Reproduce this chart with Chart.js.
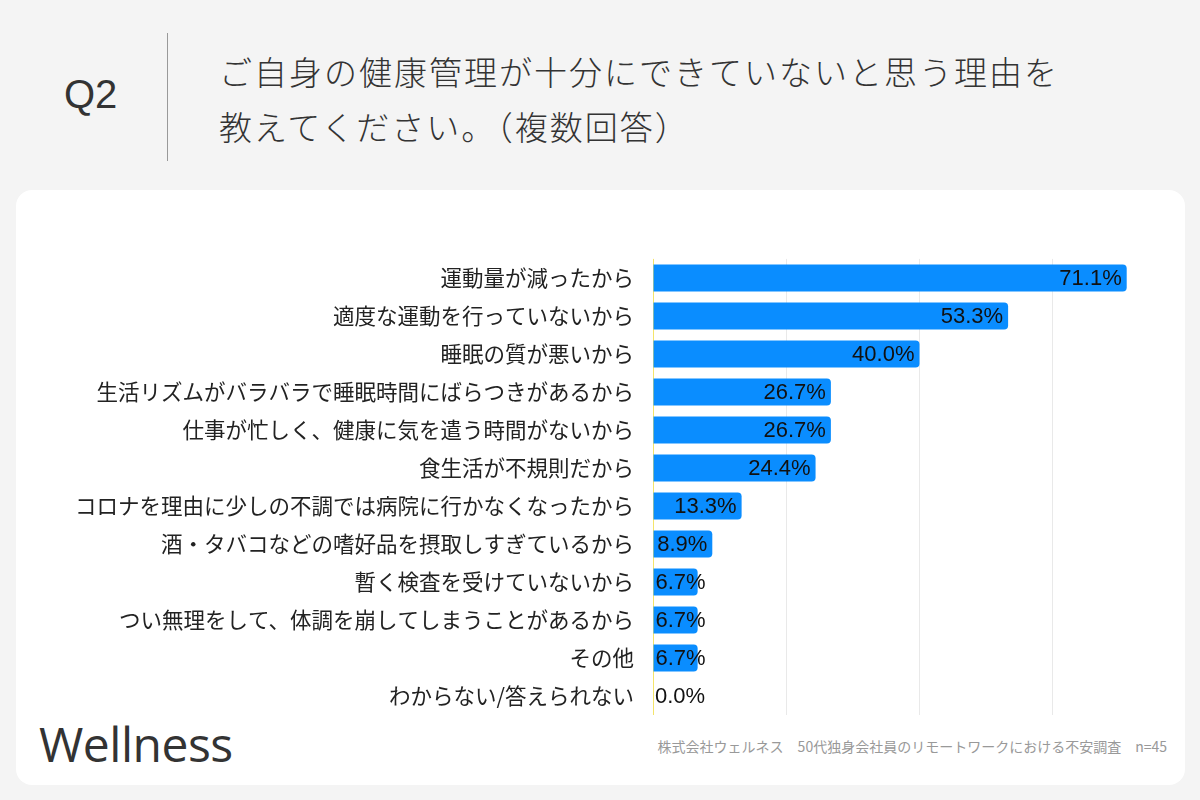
<!DOCTYPE html>
<html lang="ja">
<head>
<meta charset="utf-8">
<script src="https://cdn.jsdelivr.net/npm/chart.js@4"></script>
<style>
  html, body { margin: 0; padding: 0; }
  body {
    width: 1200px; height: 800px; background: #f4f4f4; position: relative; overflow: hidden;
    font-family: "Liberation Sans", "Noto Sans CJK JP", sans-serif; color: #333;
  }
  .q { position: absolute; left: 64px; top: 72px; font-size: 40px; color: #333; }
  .vline { position: absolute; left: 167px; top: 33px; width: 1px; height: 128px; background: #999; }
  .title { position: absolute; left: 219px; top: 44px; font-size: 33px; line-height: 55px; color: #333;
    font-family: "Noto Sans CJK JP", sans-serif; font-weight: 300; letter-spacing: 2px; }
  .card { position: absolute; left: 16px; top: 190px; width: 1169px; height: 595px; background: #fff; border-radius: 16px; }
  .logo { position: absolute; left: 39px; top: 711px; font-size: 48px; color: #333; font-family: "Open Sans", sans-serif; letter-spacing: -0.5px; }
  .foot { position: absolute; right: 33px; top: 736px; font-size: 14px; color: #999; font-family: "Noto Sans CJK JP", sans-serif; }
  #wrap { position: absolute; left: 16px; top: 227px; width: 1170px; height: 520px; }
</style>
</head>
<body>
<div class="q">Q2</div>
<div class="vline"></div>
<div class="title">ご自身の健康管理が十分にできていないと思う理由を<br>教えてください。（複数回答）</div>
<div class="card"></div>
<div class="logo">Wellness</div>
<div class="foot">株式会社ウェルネス　50代独身会社員のリモートワークにおける不安調査　n=45</div>
<div id="wrap"><canvas id="chart"></canvas></div>
<script>
const categories = [
  '運動量が減ったから',
  '適度な運動を行っていないから',
  '睡眠の質が悪いから',
  '生活リズムがバラバラで睡眠時間にばらつきがあるから',
  '仕事が忙しく、健康に気を遣う時間がないから',
  '食生活が不規則だから',
  'コロナを理由に少しの不調では病院に行かなくなったから',
  '酒・タバコなどの嗜好品を摂取しすぎているから',
  '暫く検査を受けていないから',
  'つい無理をして、体調を崩してしまうことがあるから',
  'その他',
  'わからない/答えられない',
];
const values = [71.1, 53.3, 40.0, 26.7, 26.7, 24.4, 13.3, 8.9, 6.7, 6.7, 6.7, 0.0];
const axisTicks = [0, 20, 40, 60];

const valueLabels = {
  id: 'valueLabels',
  afterDatasetsDraw(chart) {
    const ctx = chart.ctx;
    const meta = chart.getDatasetMeta(0);
    ctx.save();
    ctx.font = '22px "Liberation Sans", Arial, sans-serif';
    ctx.fillStyle = '#111';
    ctx.textBaseline = 'middle';
    meta.data.forEach((bar, i) => {
      const text = values[i].toFixed(1) + '%';
      const w = ctx.measureText(text).width;
      const x = Math.max(bar.x - 5 - w, bar.base + 2);
      ctx.fillText(text, x, bar.y + 1);
    });
    ctx.restore();
  }
};

new Chart(document.getElementById('chart'), {
  type: 'bar',
  data: {
    labels: categories,
    datasets: [{
      data: values,
      backgroundColor: '#0a8dff',
      borderRadius: 4,
      borderSkipped: 'start',
      barPercentage: 0.71,
      categoryPercentage: 1,
    }],
  },
  options: {
    indexAxis: 'y',
    responsive: true,
    maintainAspectRatio: false,
    animation: false,
    layout: { padding: { top: 5, bottom: 0, left: 0, right: 0 } },
    plugins: {
      legend: false,
      tooltip: { enabled: false },
    },
    scales: {
      x: {
        min: 0,
        max: 80,
        afterBuildTicks: (scale) => {
          scale.ticks = [...axisTicks, 80].map((v) => ({ value: v }));
        },
        ticks: { display: false },
        border: { display: false },
        grid: {
          drawTicks: false,
          color: (c) => c.tick && c.tick.value === 0 ? '#f4e46a' : (c.tick && c.tick.value === 80 ? 'rgba(0,0,0,0)' : '#e9e9e9'),
          lineWidth: 1,
        },
      },
      y: {
        afterFit: (scale) => { scale.width = 637; },
        border: { display: false },
        grid: { display: false, drawTicks: false },
        ticks: {
          padding: 19,
          color: '#222',
          font: { size: 21.5, family: '"Noto Sans CJK JP", sans-serif', weight: 400 },
        },
      },
    },
  },
  plugins: [valueLabels],
});
</script>
</body>
</html>
